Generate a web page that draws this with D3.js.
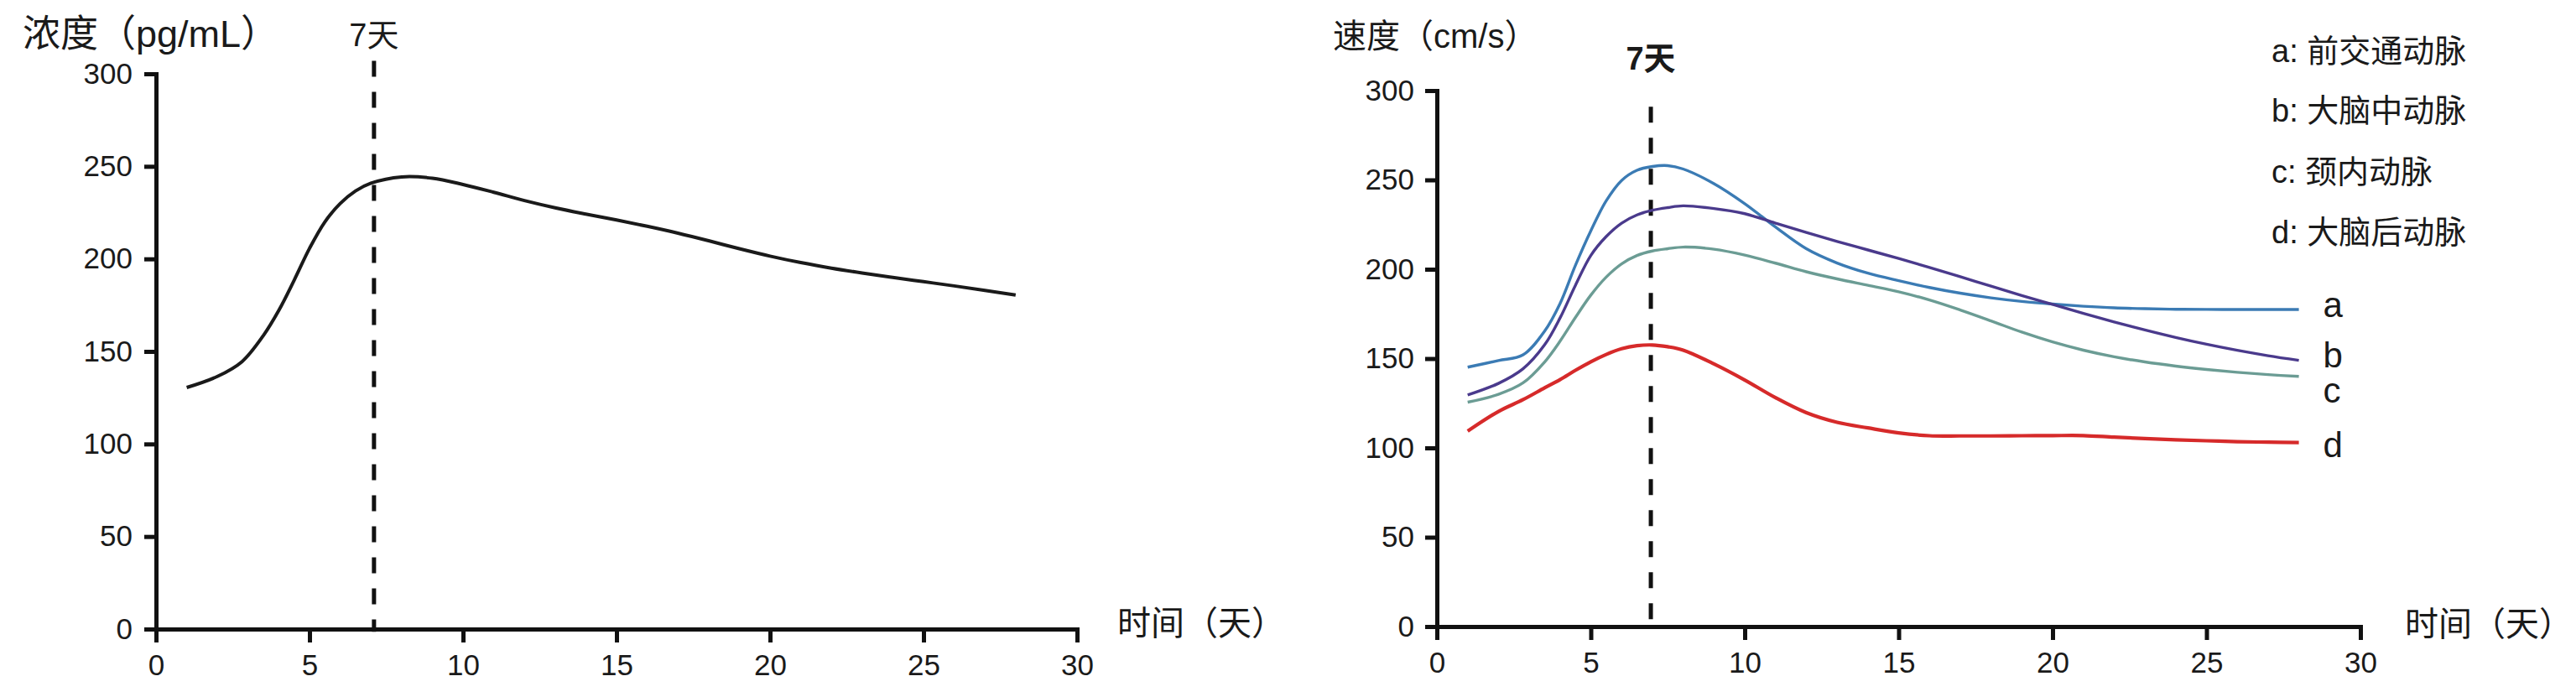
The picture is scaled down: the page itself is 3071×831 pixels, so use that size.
<!DOCTYPE html>
<html><head><meta charset="utf-8">
<script src="https://cdn.jsdelivr.net/npm/d3@7"></script>
<style>
html,body{margin:0;padding:0;background:#fff;}
svg{display:block;}
text{fill:#1a1a1a;}
</style></head>
<body>
<svg id="c" width="3071" height="831"></svg>
<script>
// ---------- data ----------
const xTicks = [0,5,10,15,20,25,30];
const yTicks = [0,50,100,150,200,250,300];

// left panel: concentration (pg/mL)
const leftDays   = [1,2,2.8,3.5,4,4.5,5,5.5,6,6.5,7,8,9,10,11,12,13,14,15,16,17,18,19,20,21,22,23,24,25,26,27,28];
const leftValues = [130.5,136.5,144.5,158.7,172.2,188.5,205.7,220,229.9,236.7,240.9,244.3,243.6,240.2,236,231.5,227.6,224.2,221,217.6,213.9,209.8,205.5,201.5,198,195,192.4,190,187.7,185.4,183,180.5];

// right panel: velocity (cm/s)
const rightDays = [1,2,2.8,3.5,4,4.5,5,5.5,6,6.5,7,7.5,8,9,10,11,12,13,14,15,16,17,18,19,20,21,22,23,24,25,26,27,28];
const seriesA = [145.2,148.9,152.1,165.4,180.8,202.2,221.5,238.3,249.7,255.4,257.5,258,256.1,247.9,236.7,223.6,211.5,203.5,197.8,193.6,189.8,186.6,184,182,180.5,179.3,178.4,177.9,177.6,177.5,177.5,177.5,177.5];
const seriesB = [129.6,136.1,144.3,157.7,172.7,191,207.7,218.3,225.8,230.4,233,234.5,235.5,234,231.1,225.8,220.6,215.6,210.8,206,201,195.8,190.5,185.3,180.3,175.3,170.5,166,161.8,158,154.6,151.6,149];
const seriesC = [125.6,130,136.4,148.1,159.7,173,185.5,195.6,203,207.7,210.2,211.5,212.4,211.2,207.9,203.4,198.6,194.6,191,187.4,182.8,177.2,171.1,164.8,159.3,154.7,151,148.1,145.8,143.9,142.3,141,140];
const seriesD = [109.4,120.4,127,133.6,138.2,143.4,148.2,152.3,155.5,157.2,157.6,156.6,154.7,147,138,128.1,119.7,114.3,111.2,108.4,106.8,106.7,106.7,106.8,106.9,106.9,106,105.2,104.5,104,103.5,103.2,103];
const seriesKeys   = ["a","b","c","d"];
const seriesNames  = ["前交通动脉","大脑中动脉","颈内动脉","大脑后动脉"];
const seriesColors = ["#3b7bb4","#4a3a8c","#6b9c94","#d62a2a"];

const leftMarkerDay = 7.1, rightMarkerDay = 6.95;
const markerLabel = "7天";
const leftTitle = "浓度（pg/mL）", rightTitle = "速度（cm/s）", xTitle = "时间（天）";

// ---------- drawing ----------
const svg = d3.select("#c");
svg.append("rect").attr("width",3071).attr("height",831).attr("fill","#fff");
const LAT = "'Liberation Sans', Arial, 'Noto Sans CJK SC', sans-serif";
const CJK = "'Liberation Sans', 'Noto Sans CJK SC', sans-serif";

function panel(cfg){
  const x = d3.scaleLinear().domain([0,30]).range(cfg.xr);
  const y = d3.scaleLinear().domain([0,300]).range(cfg.yr);
  const g = svg.append("g");

  const xa = g.append("g").attr("transform",`translate(0,${cfg.yr[0]})`)
    .call(d3.axisBottom(x).tickValues(xTicks).tickSize(16).tickSizeOuter(0).tickPadding(14));
  const ya = g.append("g").attr("transform",`translate(${cfg.xr[0]},0)`)
    .call(d3.axisLeft(y).tickValues(yTicks).tickSize(14).tickSizeOuter(0).tickPadding(cfg.ypad));
  [xa,ya].forEach(a=>{
    a.select(".domain").attr("stroke","#111").attr("stroke-width",5).attr("stroke-linecap","square");
    a.selectAll(".tick line").attr("stroke","#111").attr("stroke-width",5);
    a.selectAll(".tick text").attr("font-family",LAT).attr("font-size",35).attr("fill","#222");
  });

  // marker dashed line
  g.append("line")
    .attr("x1",x(cfg.marker)).attr("x2",x(cfg.marker))
    .attr("y1",y(cfg.markerTop)).attr("y2",y(-1.5))
    .attr("stroke","#111").attr("stroke-width",5).attr("stroke-dasharray","19,18");
  return {x,y,g};
}

const line = (sx,sy)=>d3.line().curve(d3.curveCatmullRom.alpha(0.5)).x(d=>sx(d[0])).y(d=>sy(d[1]));

// left
const L = panel({xr:[186,1284], yr:[750,88], ypad:14, marker:leftMarkerDay, markerTop:307});
L.g.append("path").datum(leftDays.map((d,i)=>[d,leftValues[i]]))
  .attr("d",line(L.x,L.y)).attr("fill","none").attr("stroke","#1a1a1a").attr("stroke-width",4);

L.g.append("text").attr("x",27).attr("y",56).attr("font-family",CJK).attr("font-size",45).text(leftTitle);
L.g.append("text").attr("x",L.x(leftMarkerDay)).attr("y",55).attr("text-anchor","middle")
  .attr("font-family",CJK).attr("font-size",38).text(markerLabel);
L.g.append("text").attr("x",1332).attr("y",757).attr("font-family",CJK).attr("font-size",40).text(xTitle);

// right
const R = panel({xr:[1713,2814], yr:[747,108], ypad:13, marker:rightMarkerDay, markerTop:291});
const allSeries = [seriesA,seriesB,seriesC,seriesD];
allSeries.forEach((vals,i)=>{
  R.g.append("path").datum(rightDays.map((d,j)=>[d,vals[j]]))
    .attr("d",line(R.x,R.y)).attr("fill","none").attr("stroke",seriesColors[i])
    .attr("stroke-width", i===3 ? 4.2 : 3.4);
});
R.g.append("text").attr("x",1589).attr("y",57).attr("font-family",CJK).attr("font-size",40).text(rightTitle);
R.g.append("text").attr("x",R.x(rightMarkerDay)).attr("y",83).attr("text-anchor","middle")
  .attr("font-family",CJK).attr("font-size",38).attr("font-weight","bold").text(markerLabel);
R.g.append("text").attr("x",2867).attr("y",758).attr("font-family",CJK).attr("font-size",40).text(xTitle);

// legend
const legendY = [74,145,218,290];
seriesKeys.forEach((k,i)=>{
  R.g.append("text").attr("x",2708).attr("y",legendY[i]).attr("font-family",CJK).attr("font-size",38)
    .text(`${k}: ${seriesNames[i]}`);
});
// end labels
const endLabelY = [378,438,480,545];
seriesKeys.forEach((k,i)=>{
  R.g.append("text").attr("x",R.x(rightDays[rightDays.length-1])+29).attr("y",endLabelY[i])
    .attr("font-family",LAT).attr("font-size",42).text(k);
});
</script>
</body></html>
